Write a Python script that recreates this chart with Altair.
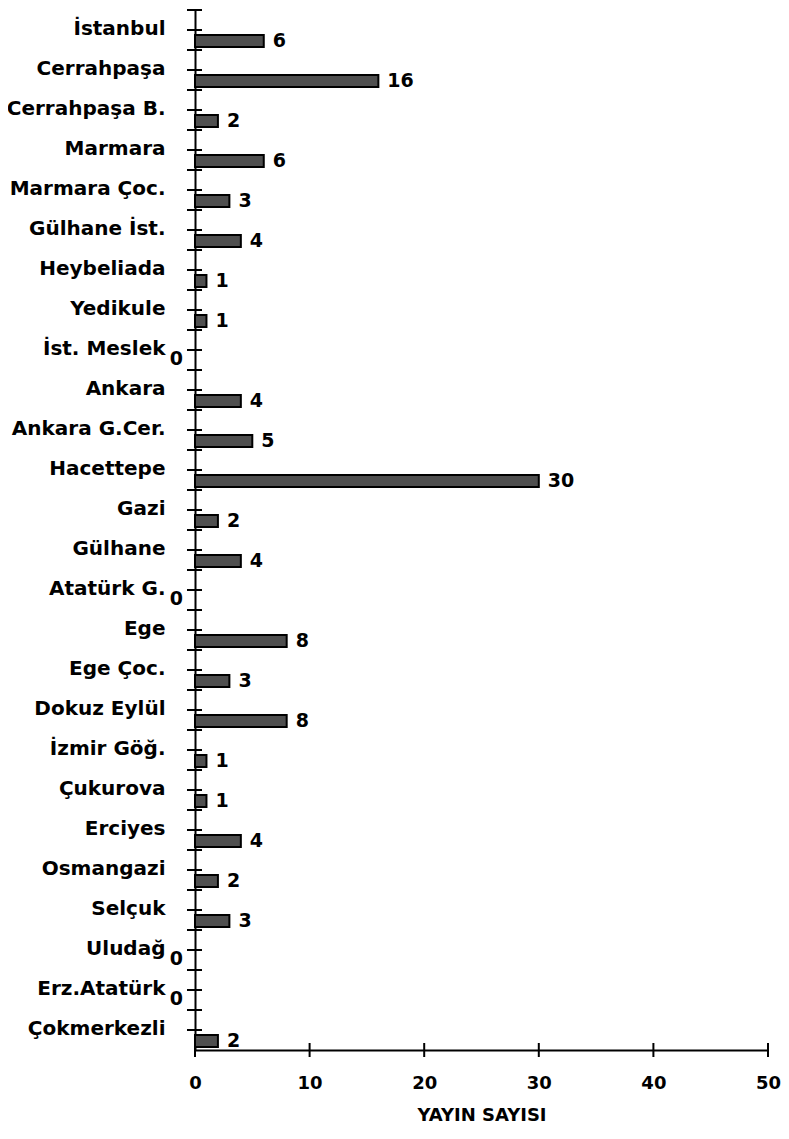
import altair as alt
import pandas as pd

names = ["İstanbul", "Cerrahpaşa", "Cerrahpaşa B.", "Marmara", "Marmara Çoc.",
         "Gülhane İst.", "Heybeliada", "Yedikule", "İst. Meslek", "Ankara",
         "Ankara G.Cer.", "Hacettepe", "Gazi", "Gülhane", "Atatürk G.", "Ege",
         "Ege Çoc.", "Dokuz Eylül", "İzmir Göğ.", "Çukurova", "Erciyes",
         "Osmangazi", "Selçuk", "Uludağ", "Erz.Atatürk", "Çokmerkezli"]
values = [6, 16, 2, 6, 3, 4, 1, 1, 0, 4, 5, 30, 2, 4, 0, 8, 3, 8, 1, 1, 4, 2, 3, 0, 0, 2]
x_ticks = [0, 10, 20, 30, 40, 50]
x_title = "YAYIN SAYISI"

df = pd.DataFrame({"name": names, "value": values})
df_ticks = pd.DataFrame({"t": x_ticks})

FONT = "DejaVu Sans"
FS_LAB = 20
FS_NUM = 19
FS_AX = 18

y_enc = alt.Y("name:N",
              scale=alt.Scale(domain=names, paddingInner=0, paddingOuter=0),
              axis=alt.Axis(title=None, ticks=False, tickSize=0, labelPadding=30,
                            labelOffset=-1, labelFont=FONT, labelFontSize=FS_LAB,
                            labelFontWeight="bold", labelColor="black",
                            labelLimit=400, domainColor="black", domainWidth=2,
                            grid=False))
x_enc = alt.X("value:Q",
              scale=alt.Scale(domain=[0, 50], nice=False),
              axis=alt.Axis(values=x_ticks, ticks=False, tickSize=0, grid=False,
                            labelPadding=24, labelFont=FONT, labelFontSize=FS_AX,
                            labelFontWeight="bold", labelColor="black",
                            labelFlush=False, labelOverlap=False,
                            domainColor="black", domainWidth=2,
                            title=x_title, titleFont=FONT, titleFontSize=FS_AX,
                            titleFontWeight="bold", titleColor="black",
                            titlePadding=14))

base = alt.Chart(df)

bars = base.transform_filter("datum.value > 0").mark_bar(
    size=12, yOffset=11, fill="#4f4f4f", stroke="black", strokeWidth=2
).encode(x=x_enc, y=y_enc)

labels = base.transform_filter("datum.value > 0").mark_text(
    align="left", baseline="middle", dx=9, yOffset=11, font=FONT, fontSize=FS_NUM,
    fontWeight="bold", color="black"
).encode(x="value:Q", y=alt.Y("name:N"), text="value:Q")

zero_labels = base.transform_filter("datum.value == 0").mark_text(
    align="right", baseline="middle", yOffset=9, font=FONT, fontSize=FS_NUM,
    fontWeight="bold", color="black"
).encode(x=alt.value(-12), y=alt.Y("name:N"), text="value:Q")

ytick_top = base.mark_rule(yOffset=-20, color="black", strokeWidth=2).encode(
    y=alt.Y("name:N"), x=alt.value(-8), x2=alt.value(7))
ytick_mid = base.mark_rule(color="black", strokeWidth=2).encode(
    y=alt.Y("name:N"), x=alt.value(-8), x2=alt.value(7))

xticks = alt.Chart(df_ticks).mark_rule(color="black", strokeWidth=2).encode(
    x=alt.X("t:Q"), y=alt.value(1033), y2=alt.value(1047))

chart = alt.layer(bars, labels, zero_labels, ytick_top, ytick_mid, xticks).properties(
    width=573, height=1040,
    autosize=alt.AutoSizeParams(type="none"),
    padding={"left": 187, "top": 2, "right": 13, "bottom": 74},
).configure(background="white").configure_view(stroke=None)

chart.save("out.html", embed_options={"renderer": "svg", "actions": False})
